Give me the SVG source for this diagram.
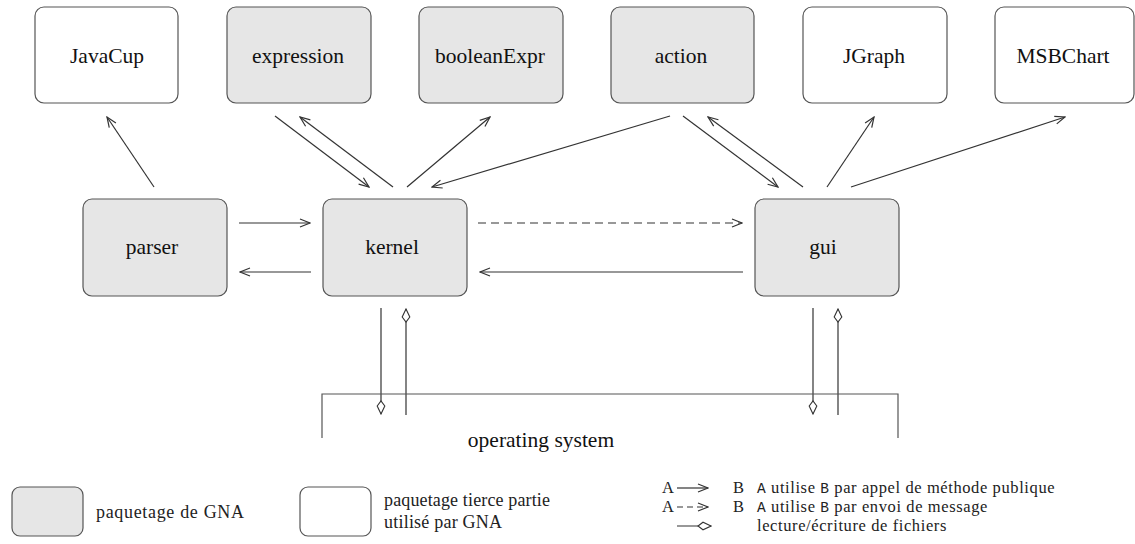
<svg xmlns="http://www.w3.org/2000/svg" width="1135" height="544" viewBox="0 0 1135 544">
<style>
.gna{fill:#e6e6e6;stroke:#555;stroke-width:1.2}
.ext{fill:#fff;stroke:#555;stroke-width:1.2}
.lbl{font-family:'Liberation Serif','Times New Roman',serif;font-size:21.5px;fill:#111;text-anchor:middle}
.leg{font-family:'Liberation Serif','Times New Roman',serif;font-size:18px;fill:#222}
.row{font-family:'Liberation Serif','Times New Roman',serif;font-size:16.5px;fill:#222;letter-spacing:0.6px}
.mono{font-family:'Liberation Mono','DejaVu Sans Mono',monospace;font-size:14.5px}
.c{fill:none;stroke:#333;stroke-width:1.2}
.a{marker-end:url(#arr)}
.d{marker-end:url(#dia)}
.dash{stroke-dasharray:8 5}
</style>
<defs>
<marker id="arr" viewBox="-11 -5 12 10" refX="0" refY="0" markerWidth="12" markerHeight="10" markerUnits="userSpaceOnUse" orient="auto">
<path d="M-10,-4 L0,0 L-10,4" fill="none" stroke="#333" stroke-width="1.2"/>
</marker>
<marker id="dia" viewBox="-15 -6 16 12" refX="0" refY="0" markerWidth="16" markerHeight="12" markerUnits="userSpaceOnUse" orient="auto">
<path d="M0,0 L-8,-3.8 L-13,0 L-8,3.8 Z" fill="#fff" stroke="#333" stroke-width="1.1"/>
</marker>
</defs>

<g id="connectors">
<path class="c a" d="M154,187 L107,117"/>
<path class="c a" d="M275,116 L369,187"/>
<path class="c a" d="M393,187 L300,117"/>
<path class="c a" d="M407,187 L490,117"/>
<path class="c a" d="M670,116 L432,187"/>
<path class="c a" d="M683,116 L778,187"/>
<path class="c a" d="M803,187 L708,117"/>
<path class="c a" d="M827,187 L874,117"/>
<path class="c a" d="M851,187 L1065,117"/>
<path class="c a" d="M239,223 L310,223"/>
<path class="c a" d="M311,272 L240,272"/>
<path class="c a dash" d="M478,223 L742,223"/>
<path class="c a" d="M743,272 L480,272"/>
<path class="c d" d="M381,308 L381,414"/>
<path class="c d" d="M406,415 L406,309"/>
<path class="c d" d="M813,308 L813,414"/>
<path class="c d" d="M838,415 L838,309"/>
</g>

<g id="JavaCup"><rect class="ext" x="35" y="7" width="143" height="96" rx="9"/><text class="lbl" x="107" y="63">JavaCup</text></g>
<g id="expression"><rect class="gna" x="227" y="7" width="144" height="96" rx="9"/><text class="lbl" x="298" y="63">expression</text></g>
<g id="booleanExpr"><rect class="gna" x="419" y="7" width="144" height="96" rx="9"/><text class="lbl" x="490" y="63">booleanExpr</text></g>
<g id="action"><rect class="gna" x="611" y="7" width="143" height="96" rx="9"/><text class="lbl" x="681" y="63">action</text></g>
<g id="JGraph"><rect class="ext" x="803" y="7" width="144" height="96" rx="9"/><text class="lbl" x="874" y="63">JGraph</text></g>
<g id="MSBChart"><rect class="ext" x="995" y="7" width="139" height="96" rx="9"/><text class="lbl" x="1063" y="63">MSBChart</text></g>

<g id="parser"><rect class="gna" x="83" y="199" width="144" height="97" rx="9"/><text class="lbl" x="152" y="254">parser</text></g>
<g id="kernel"><rect class="gna" x="323" y="199" width="144" height="97" rx="9"/><text class="lbl" x="392" y="254">kernel</text></g>
<g id="gui"><rect class="gna" x="755" y="199" width="144" height="97" rx="9"/><text class="lbl" x="823" y="254">gui</text></g>

<g id="os">
<path d="M322,438 V394 H898 V438" fill="none" stroke="#555" stroke-width="1.2"/>
<text class="lbl" x="541" y="447">operating system</text>
</g>

<g id="legend">
<rect class="gna" x="12" y="487" width="71" height="49" rx="8"/>
<text class="leg" x="96" y="518" textLength="148" lengthAdjust="spacing">paquetage de GNA</text>
<rect class="ext" x="300" y="487" width="71" height="49" rx="8"/>
<text class="leg" x="384" y="506" textLength="166" lengthAdjust="spacing">paquetage tierce partie</text>
<text class="leg" x="384" y="528" textLength="118" lengthAdjust="spacing">utilisé par GNA</text>

<text class="row" x="662" y="493">A</text>
<path class="c a" d="M677,488 L708,488"/>
<text class="row" x="733" y="493">B</text>
<text class="row" x="757" y="493"><tspan class="mono">A</tspan> utilise <tspan class="mono">B</tspan> par appel de méthode publique</text>

<text class="row" x="662" y="512">A</text>
<path class="c a dash" d="M677,507 L708,507" style="stroke-dasharray:6 4"/>
<text class="row" x="733" y="512">B</text>
<text class="row" x="757" y="512"><tspan class="mono">A</tspan> utilise <tspan class="mono">B</tspan> par envoi de message</text>

<path class="c d" d="M677,526 L711,526"/>
<text class="row" x="757" y="531">lecture/écriture de fichiers</text>
</g>
</svg>
